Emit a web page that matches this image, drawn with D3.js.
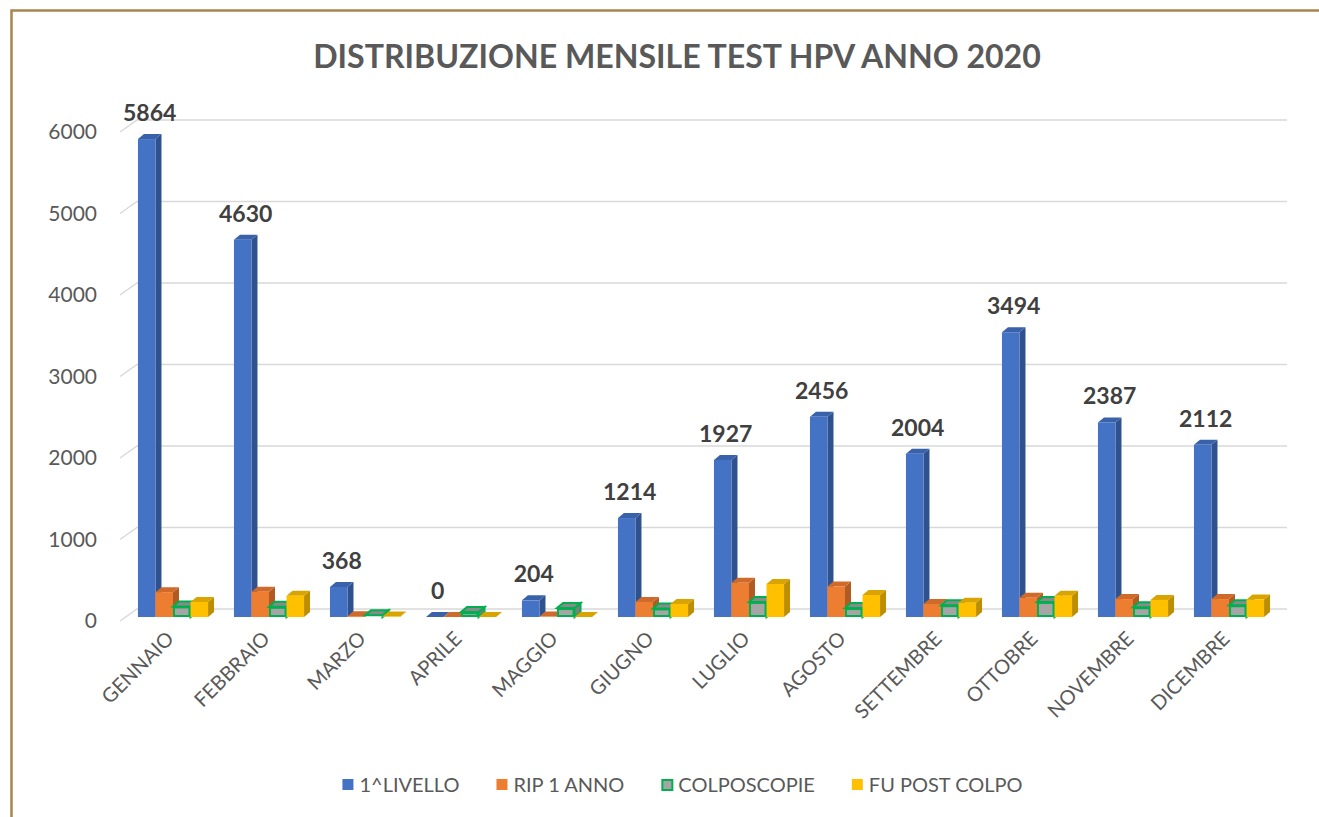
<!DOCTYPE html>
<html>
<head>
<meta charset="utf-8">
<script src="https://cdn.jsdelivr.net/npm/d3@7"></script>
<style>
  body { margin: 0; background: #fff; }
  text { font-family: Lato, "Open Sans", sans-serif; }
</style>
</head>
<body>
<div id="chart"></div>
<script>
const width = 1319;
const height = 817;

const months = ["GENNAIO", "FEBBRAIO", "MARZO", "APRILE", "MAGGIO", "GIUGNO",
    "LUGLIO", "AGOSTO", "SETTEMBRE", "OTTOBRE", "NOVEMBRE", "DICEMBRE"];
const livello = [5864, 4630, 368, 0, 204, 1214, 1927, 2456, 2004, 3494, 2387, 2112];
const rip1anno = [305, 310, 10, 0, 5, 185, 420, 375, 160, 235, 220, 220];
const colposcopie = [130, 125, 20, 60, 110, 105, 185, 110, 145, 185, 120, 145];
const fuPostColpo = [185, 260, 5, 0, 0, 160, 405, 270, 175, 260, 210, 215];
const seriesNames = ["1^LIVELLO", "RIP 1 ANNO", "COLPOSCOPIE", "FU POST COLPO"];
const yTicks = [0, 1000, 2000, 3000, 4000, 5000, 6000];

const seriesValues = [livello, rip1anno, colposcopie, fuPostColpo];

// colori: fronte, lato, sopra, bordo
const faces = [
    { front: "#4472c4", side: "#2f528f", top: "#3a62aa", stroke: null },
    { front: "#ed7d31", side: "#b05b22", top: "#cf6a2a", stroke: null },
    { front: "#a5a5a5", side: "#7f7f7f", top: "#8a8a8a", stroke: "#00b050" },
    { front: "#ffc000", side: "#bd8e00", top: "#d9a400", stroke: null }
];

const svg = d3.select("#chart")
    .append("svg")
    .attr("width", width)
    .attr("height", height);

// cornice
svg.append("rect")
    .attr("x", 11.5)
    .attr("y", 10.5)
    .attr("width", width + 20)
    .attr("height", height + 20)
    .attr("fill", "none")
    .attr("stroke", "#a8844f")
    .attr("stroke-width", 2.5);

// titolo
const title = svg.append("text")
    .attr("x", 677)
    .attr("y", 68)
    .attr("text-anchor", "middle")
    .attr("font-weight", "bold")
    .attr("font-size", 31)
    .attr("fill", "#595959")
    .text("DISTRIBUZIONE MENSILE TEST HPV ANNO 2020");
const tw = title.node().getComputedTextLength();
title.attr("font-size", 31 * 728 / tw);

// profondità 3D
const depthX = 17, depthY = -12;
const barDX = 6, barDY = -5;

const y = d3.scaleLinear().domain([0, 6000]).range([617, 128]);

const x = d3.scaleBand()
    .domain(months)
    .range([125, 125 + 12 * 96])
    .paddingInner(0.27)
    .paddingOuter(0.135);

const xs = d3.scaleBand()
    .domain(d3.range(seriesNames.length))
    .range([0, x.bandwidth()]);

// griglia
const grid = svg.append("g");
yTicks.forEach(t => {
    const fy = y(t) + 4;
    grid.append("path")
        .attr("d", `M120,${fy} L${120 + depthX},${fy + depthY} L1287,${fy + depthY}`)
        .attr("fill", "none")
        .attr("stroke", "#d9d9d9")
        .attr("stroke-width", 1.5);
    svg.append("text")
        .attr("x", 97)
        .attr("y", fy)
        .attr("dy", "0.35em")
        .attr("text-anchor", "end")
        .attr("font-size", 21)
        .attr("fill", "#595959")
        .text(t);
});

// barre
const bars = svg.append("g");
months.forEach((m, i) => {
    seriesValues.forEach((vals, s) => {
        const f = faces[s];
        const x0 = x(m) + xs(s);
        const w = xs.bandwidth();
        const base = y(0);
        const top = y(vals[i]);
        const g = bars.append("g");
        const sw = f.stroke ? 2 : 0;
        g.append("polygon")
            .attr("points", `${x0 + w},${top} ${x0 + w + barDX},${top + barDY} ${x0 + w + barDX},${base + barDY} ${x0 + w},${base}`)
            .attr("fill", f.side)
            .attr("stroke", f.stroke || "none")
            .attr("stroke-width", sw);
        g.append("polygon")
            .attr("points", `${x0},${top} ${x0 + w},${top} ${x0 + w + barDX},${top + barDY} ${x0 + barDX},${top + barDY}`)
            .attr("fill", f.top)
            .attr("stroke", f.stroke || "none")
            .attr("stroke-width", sw);
        if (base - top > 0) {
            g.append("rect")
                .attr("x", x0 + sw / 2)
                .attr("y", top + sw / 2)
                .attr("width", w - sw)
                .attr("height", Math.max(0, base - top - sw))
                .attr("fill", f.front)
                .attr("stroke", f.stroke || "none")
                .attr("stroke-width", sw);
        }
    });
    // etichetta valore 1^LIVELLO
    svg.append("text")
        .attr("x", x(m) + xs(0) + xs.bandwidth() / 2 + barDX / 2)
        .attr("y", y(livello[i]) + barDY - 13)
        .attr("text-anchor", "middle")
        .attr("font-weight", "bold")
        .attr("font-size", 23)
        .attr("fill", "#404040")
        .text(livello[i]);
    // etichetta mese
    const cx = x(m) + x.bandwidth() / 2;
    svg.append("text")
        .attr("transform", `translate(${cx + 2},640) rotate(-45)`)
        .attr("text-anchor", "end")
        .attr("font-size", 20)
        .attr("fill", "#595959")
        .text(m);
});

// legenda
const legend = svg.append("g");
let lx = 0;
seriesNames.forEach((name, s) => {
    const item = legend.append("g");
    item.append("rect")
        .attr("x", 1)
        .attr("y", -5)
        .attr("width", faces[s].stroke ? 10 : 11)
        .attr("height", faces[s].stroke ? 10 : 11)
        .attr("fill", faces[s].front)
        .attr("stroke", faces[s].stroke || "none")
        .attr("stroke-width", 2)
        .attr("transform", faces[s].stroke ? "translate(1,1)" : null);
    const t = item.append("text")
        .attr("x", 18)
        .attr("y", 1)
        .attr("dy", "0.35em")
        .attr("font-size", 20)
        .attr("fill", "#595959")
        .text(name);
    item.attr("transform", `translate(${lx},0)`);
    lx += 18 + t.node().getComputedTextLength() + 36;
});
lx -= 36;
legend.attr("transform", `translate(${682 - lx / 2},784)`);
</script>
</body>
</html>
